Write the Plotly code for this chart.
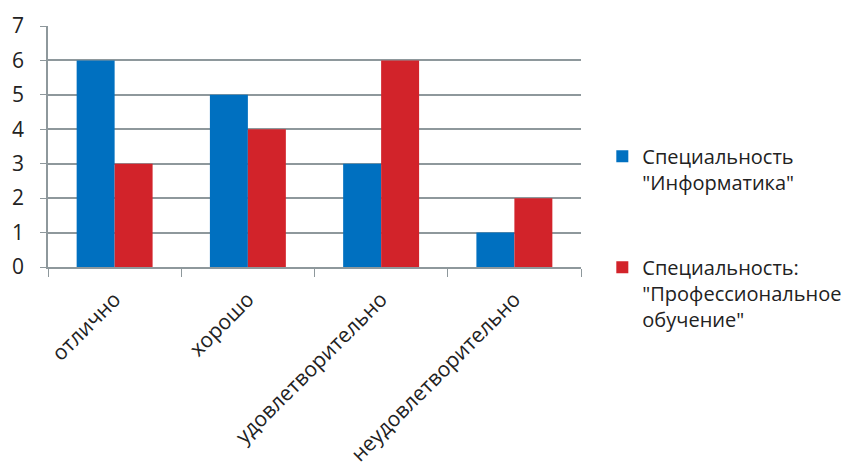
import plotly.graph_objects as go

categories = ["отлично", "хорошо", "удовлетворительно", "неудовлетворительно"]
informatika = [6, 5, 3, 1]
prof_obuch = [3, 4, 6, 2]
series_names = ["Специальность<br>\"Информатика\"",
                "Специальность:<br>\"Профессиональное<br>обучение\""]
y_ticks = [0, 1, 2, 3, 4, 5, 6, 7]

fig = go.Figure()
fig.add_trace(go.Bar(x=categories, y=informatika, name=series_names[0],
                     marker=dict(color="#0070C0", line=dict(width=0)), legendgroup="a"))
fig.add_trace(go.Bar(x=categories, y=prof_obuch, name=series_names[1],
                     marker=dict(color="#D2232A", line=dict(width=0)), legendgroup="b"))

fig.update_layout(
    width=858, height=471,
    margin=dict(l=40, r=285, t=18, b=212),
    plot_bgcolor="white", paper_bgcolor="white",
    barmode="group", bargap=0.43, bargroupgap=0,
    font=dict(family="Open Sans", color="#222222"),
    showlegend=True,
    legend=dict(x=1.04, y=0.54, xanchor="left", yanchor="top",
                font=dict(size=20, family="Open Sans", color="#222222"),
                tracegroupgap=56, valign="top", itemwidth=30),
    xaxis=dict(showline=True, linecolor="#8E989C", linewidth=1.5,
               ticks="outside", tickson="boundaries", ticklen=8, tickcolor="#8E989C",
               tickangle=-45, tickfont=dict(size=21, family="Open Sans", color="#222222"),
               ticklabelstandoff=10,
               showgrid=False, automargin=False),
    yaxis=dict(range=[0, 7], tickvals=y_ticks, showline=True, linecolor="#8E989C", linewidth=1.5,
               ticks="outside", ticklen=6, tickcolor="#8E989C",
               showgrid=True, gridcolor="#8E989C", gridwidth=1.5,
               tickfont=dict(size=21, family="Open Sans", color="#222222"),
               ticklabelstandoff=12,
               zeroline=False, automargin=False),
)

fig.write_html("out.html")
